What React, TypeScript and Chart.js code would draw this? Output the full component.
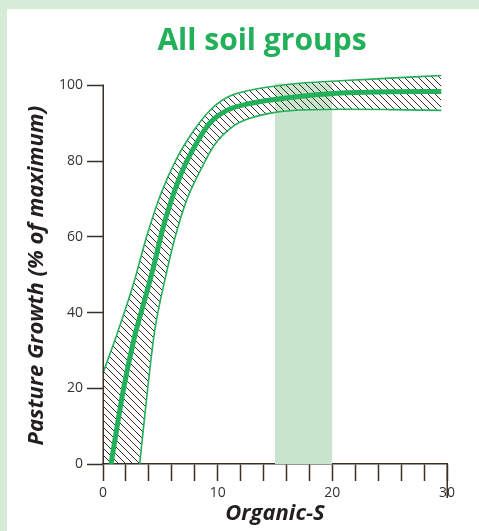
import { useEffect, useRef } from 'react';
import { Chart, registerables } from 'chart.js';

Chart.register(...registerables);

// ---- text ----
const TITLE = 'All soil groups';
const X_TITLE = 'Organic-S';
const Y_TITLE = 'Pasture Growth (% of maximum)';

// ---- axes ----
const X_MIN = 0;
const X_MAX = 30;
const X_STEP = 2;
const X_LABEL_STEP = 10;
const Y_MIN = 0;
const Y_MAX = 100; // last labelled tick / top of the axis line
const Y_SCALE_TOP = 103; // confidence band rises a little above 100
const Y_TICKS = [0, 20, 40, 60, 80, 100];

// ---- fitted response curve ----
const mainX = [0.7, 1.8, 2.7, 3.6, 4.4, 5.2, 6.0, 7.0, 8.2, 9.3, 10.8, 12.8, 16.3, 20.7, 25, 29.5];
const mainY = [0, 20, 33, 43, 52, 62, 70, 78, 85, 90, 93.4, 95.2, 96.8, 98.0, 98.3, 98.4];

// ---- upper confidence boundary ----
const upperX = [0, 1.3, 2.7, 3.8, 5.0, 6.4, 7.9, 9.3, 10.8, 12.8, 16.3, 20.7, 25, 29.5];
const upperY = [24, 35, 48, 60, 71, 80.5, 88, 93.3, 96.8, 98.7, 100.3, 101.2, 101.9, 102.6];

// ---- lower confidence boundary ----
const lowerX = [3.2, 3.9, 4.5, 5.5, 6.3, 7.3, 8.5, 9.7, 11.4, 12.8, 14.5, 16.3, 20.7, 25, 29.5];
const lowerY = [0, 20, 35, 50, 60, 69.7, 77.6, 84.2, 89.3, 91.3, 92.6, 93.3, 93.7, 93.6, 93.4];

// ---- optimum range (shaded) ----
const optimumX = [15, 20];
const optimumTop = 100.5;

// ---- styles ----
const GREEN = '#22b05a';
const BAND = '#c9e5ce';
const AXIS = '#3a2f24';
const HATCH = '#3a2e24';
const LABEL = '#333333';
const DARK = '#231f20';
const FONT = '"Open Sans", "Noto Sans", sans-serif';

const pts = (xs: number[], ys: number[]) => xs.map((x, i) => ({ x, y: ys[i] }));

function makeHatch(): CanvasPattern | string {
  const s = 7;
  const c = document.createElement('canvas');
  c.width = s;
  c.height = s;
  const g = c.getContext('2d');
  if (!g) return 'rgba(0,0,0,0)';
  g.strokeStyle = HATCH;
  g.lineWidth = 1;
  g.beginPath();
  g.moveTo(-1, -1);
  g.lineTo(s + 1, s + 1);
  g.moveTo(-1, s - 1);
  g.lineTo(1, s + 1);
  g.moveTo(s - 1, -1);
  g.lineTo(s + 1, 1);
  g.stroke();
  const p = g.createPattern(c, 'repeat');
  return p || 'rgba(0,0,0,0)';
}

export default function App() {
  const ref = useRef<HTMLCanvasElement | null>(null);

  useEffect(() => {
    const canvas = ref.current;
    if (!canvas) return;
    const hatch = makeHatch();

    const decorPlugin = {
      id: 'decor',
      afterDraw(chart: any) {
        const ctx = chart.ctx;
        const xs = chart.scales.x;
        const ys = chart.scales.y;
        const area = chart.chartArea;
        ctx.save();
        // chart title
        ctx.font = `bold 30px ${FONT}`;
        ctx.fillStyle = GREEN;
        ctx.textAlign = 'center';
        ctx.textBaseline = 'alphabetic';
        ctx.fillText(TITLE, 255, 41);

        // y axis line from 0 to 100
        const ax = Math.round(area.left) + 0.25;
        ctx.strokeStyle = AXIS;
        ctx.lineWidth = 1.5;
        ctx.beginPath();
        ctx.moveTo(ax, ys.getPixelForValue(Y_MIN));
        ctx.lineTo(ax, Math.round(ys.getPixelForValue(Y_MAX)) - 0.5);
        ctx.stroke();

        // last x tick runs down through its label
        const px = Math.round(xs.getPixelForValue(X_MAX)) + 0.25;
        ctx.beginPath();
        ctx.moveTo(px, area.bottom);
        ctx.lineTo(px, area.bottom + 34);
        ctx.stroke();

        // y axis title
        const cy = (ys.getPixelForValue(Y_MIN) + ys.getPixelForValue(Y_MAX)) / 2 + 1;
        ctx.translate(30, cy);
        ctx.rotate(-Math.PI / 2);
        ctx.font = `italic bold 22px ${FONT}`;
        ctx.fillStyle = DARK;
        ctx.textAlign = 'center';
        ctx.textBaseline = 'middle';
        ctx.fillText(Y_TITLE, 0, 0);
        ctx.restore();
      },
    };

    const chart = new Chart(canvas, {
      type: 'line',
      data: {
        datasets: [
          {
            label: 'optimum',
            data: optimumX.map((x) => ({ x, y: optimumTop })),
            fill: 'origin',
            backgroundColor: BAND,
            borderWidth: 0,
            borderColor: 'rgba(0,0,0,0)',
            pointRadius: 0,
            tension: 0,
            order: 5,
          },
          {
            label: 'upper',
            data: pts(upperX, upperY),
            fill: { target: 2 },
            backgroundColor: hatch as any,
            borderColor: GREEN,
            borderWidth: 1.6,
            pointRadius: 0,
            cubicInterpolationMode: 'monotone',
            clip: false,
            order: 4,
          },
          {
            label: 'lowerFill',
            data: [{ x: X_MIN, y: Y_MIN }, ...pts(lowerX, lowerY)],
            fill: false,
            borderWidth: 0,
            borderColor: 'rgba(0,0,0,0)',
            pointRadius: 0,
            tension: 0,
            order: 4,
          },
          {
            label: 'lower',
            data: pts(lowerX, lowerY),
            fill: false,
            borderColor: GREEN,
            borderWidth: 1.6,
            pointRadius: 0,
            cubicInterpolationMode: 'monotone',
            clip: false,
            order: 2,
          },
          {
            label: 'response',
            data: pts(mainX, mainY),
            fill: false,
            borderColor: GREEN,
            borderWidth: 5,
            pointRadius: 0,
            cubicInterpolationMode: 'monotone',
            clip: false,
            order: 1,
          },
        ],
      },
      options: {
        responsive: false,
        animation: false,
        events: [],
        layout: { padding: { left: 0, top: 65, right: 32, bottom: 0 } },
        plugins: {
          legend: { display: false },
          tooltip: { enabled: false },
          title: { display: false },
        },
        scales: {
          x: {
            type: 'linear',
            min: X_MIN,
            max: X_MAX,
            afterFit: (s: any) => {
              s.height = 67;
            },
            border: { display: true, color: AXIS, width: 1.5 },
            grid: {
              display: true,
              drawOnChartArea: false,
              drawTicks: true,
              tickLength: 17,
              tickWidth: 1.5,
              tickColor: AXIS,
              color: AXIS,
            },
            ticks: {
              stepSize: X_STEP,
              autoSkip: false,
              maxRotation: 0,
              padding: 4,
              color: LABEL,
              font: { family: FONT, size: 14 },
              callback: (v: any) => (Number(v) % X_LABEL_STEP === 0 ? String(v) : ''),
            },
            title: {
              display: true,
              text: X_TITLE,
              color: DARK,
              font: { family: FONT, size: 22, weight: 'bold', style: 'italic' },
              padding: { top: 0, bottom: 4 },
            },
          },
          y: {
            type: 'linear',
            min: Y_MIN,
            max: Y_SCALE_TOP,
            afterFit: (s: any) => {
              s.width = 96;
            },
            afterBuildTicks: (s: any) => {
              s.ticks = Y_TICKS.map((value) => ({ value }));
            },
            border: { display: false },
            grid: {
              display: true,
              drawOnChartArea: false,
              drawTicks: true,
              tickLength: 16,
              tickWidth: 1.5,
              tickColor: AXIS,
              color: AXIS,
            },
            ticks: {
              autoSkip: false,
              padding: 4,
              color: LABEL,
              font: { family: FONT, size: 14 },
              callback: (v: any) => String(v),
            },
            title: { display: false },
          },
        },
      },
      plugins: [decorPlugin],
    } as any);

    return () => chart.destroy();
  }, []);

  return (
    <div
      style={{
        position: 'fixed',
        left: 0,
        top: 0,
        width: 479,
        height: 531,
        background: '#d7ebd9',
        overflow: 'hidden',
      }}
    >
      <div
        style={{
          position: 'absolute',
          left: 7,
          top: 9,
          width: 472,
          height: 522,
          background: '#ffffff',
        }}
      >
        <canvas ref={ref} width={472} height={522} style={{ display: 'block' }} />
      </div>
    </div>
  );
}
